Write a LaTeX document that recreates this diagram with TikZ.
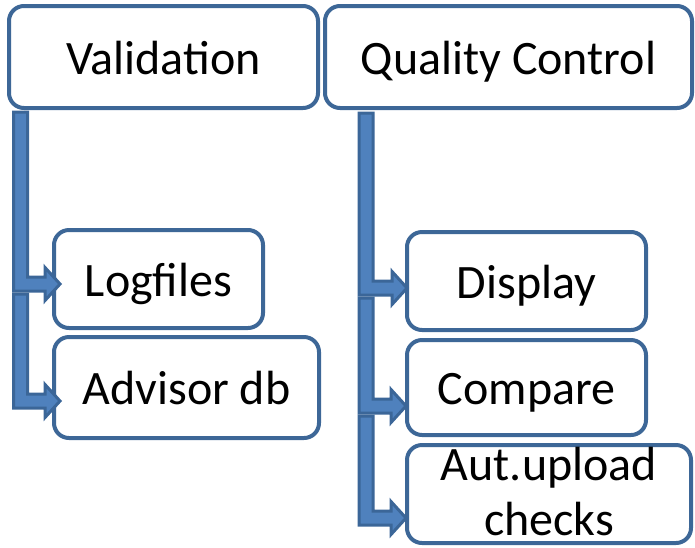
\documentclass[tikz,border=0pt]{standalone}
\usepackage{fontspec}
\setmainfont{Carlito}
\usetikzlibrary{calc}
\definecolor{boxline}{HTML}{3D6797}
\definecolor{arrline}{HTML}{3B6698}
\definecolor{arrfill}{HTML}{4F81BD}
\tikzset{
  box/.style={draw=boxline, line width=4pt, rounded corners=15pt, fill=white,
    inner sep=0pt, font=\fontsize{48}{55}\selectfont, align=center},
  oneline/.style={text height=34pt, text depth=0pt},
  blockarrow/.style={draw=arrline, fill=arrfill, line width=3pt, line join=miter},
}
\newcommand\blockarr[2]{%
  \draw[blockarrow] let \p1=(#1), \p2=(#2) in
    (\x1-7pt,\y1) -- (\x1+7pt,\y1) -- (\x1+7pt,\y2+7pt) -- (\x2-15pt,\y2+7pt)
    -- (\x2-15pt,\y2+16.5pt) -- (\x2,\y2) -- (\x2-15pt,\y2-16.5pt)
    -- (\x2-15pt,\y2-7pt) -- (\x1-7pt,\y2-7pt) -- cycle;}
\begin{document}
\begin{tikzpicture}[x=1pt,y=-1pt]
\useasboundingbox (0,0) rectangle (695,547);
% top level
\node[box,oneline,minimum width=309pt,minimum height=102pt] (val) at (163.5,57) {Validation};
\node[box,oneline,minimum width=367pt,minimum height=102pt] (qc) at (508.5,57) {Quality Control};
% left children
\node[box,oneline,minimum width=209pt,minimum height=98pt] (log) at (158.5,279) {Logfiles};
\node[box,oneline,minimum width=265pt,minimum height=101pt] (adv) at (186.5,387.5) {Advisor db};
% right children
\node[box,oneline,minimum width=239pt,minimum height=98pt] (disp) at (526.5,281) {Display};
\node[box,oneline,minimum width=239pt,minimum height=95pt] (comp) at (526.5,387.5) {Compare};
\node[box,text depth=6pt,minimum width=284pt,minimum height=98pt] (aut) at (549,494) {Aut.upload\\checks};
% connector coordinates
\coordinate (s1) at ([shift={(13.5,2)}]val.south west);
\coordinate (t1) at ([shift={(8,5)}]log.west);
\coordinate (s2) at ([yshift=-10pt]s1 |- t1);
\coordinate (t2) at ([shift={(8,13.5)}]adv.west);
\coordinate (s3) at ([shift={(43,3)}]qc.south west);
\coordinate (t3) at ([shift={(2,7)}]disp.west);
\coordinate (s4) at ([yshift=-10pt]s3 |- t3);
\coordinate (t4) at ([shift={(1,18.5)}]comp.west);
\coordinate (s5) at ([yshift=-10pt]s4 |- t4);
\coordinate (t5) at ([shift={(1,24)}]aut.west);
% connectors
\blockarr{s1}{t1}
\blockarr{s2}{t2}
\blockarr{s3}{t3}
\blockarr{s4}{t4}
\blockarr{s5}{t5}
\end{tikzpicture}
\end{document}
